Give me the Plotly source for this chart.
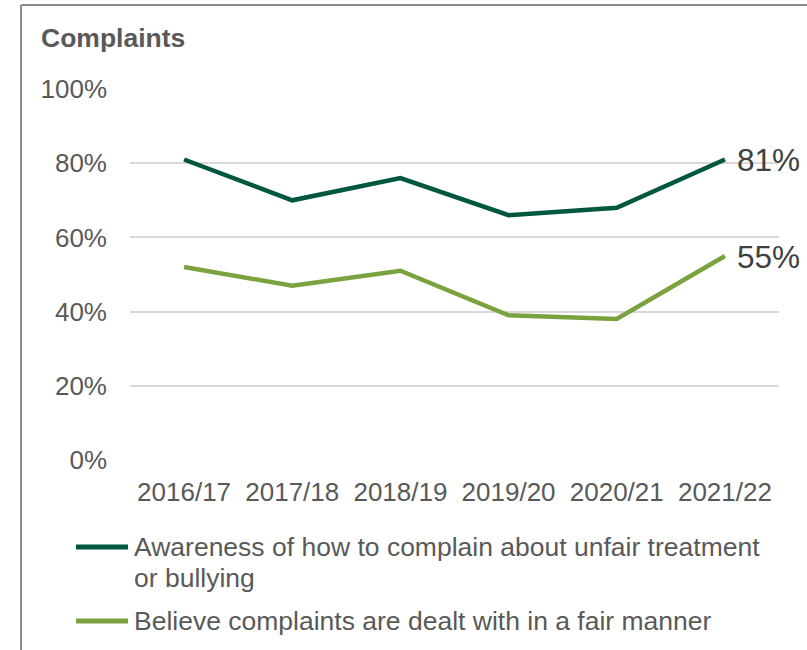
import plotly.graph_objects as go

# Survey years and results (% of respondents)
years = ["2016/17", "2017/18", "2018/19", "2019/20", "2020/21", "2021/22"]
awareness = [81, 70, 76, 66, 68, 81]
fair_manner = [52, 47, 51, 39, 38, 55]
series_names = [
    "Awareness of how to complain about unfair treatment<br>or bullying",
    "Believe complaints are dealt with in a fair manner",
]
y_ticks = [0, 20, 40, 60, 80, 100]

DARK = "#00573F"
LIGHT = "#7AA33F"
TEXT = "#595959"
FONT = "Liberation Sans, Arial, sans-serif"

W, H = 807, 650
L, R, T, B = 130, 28, 89, 190
PW, PH = W - L - R, H - T - B


def px_x(x):
    return (x - L) / PW


def px_y(y):
    return (H - B - y) / PH


fig = go.Figure()
for vals, colour in ((awareness, DARK), (fair_manner, LIGHT)):
    fig.add_trace(go.Scatter(
        x=years, y=vals, mode="lines",
        line=dict(color=colour, width=4.5),
        showlegend=False, hoverinfo="skip",
    ))

annotations = []
# latest value labels at line ends
for vals in (awareness, fair_manner):
    annotations.append(dict(
        x=years[-1], y=vals[-1], xref="x", yref="y",
        text=f"{vals[-1]}%", showarrow=False,
        xanchor="left", yanchor="middle", xshift=10, yshift=-1,
        font=dict(family=FONT, size=31.5, color="#404040"),
    ))

# chart heading
annotations.append(dict(
    x=px_x(39), y=px_y(38), xref="paper", yref="paper",
    text="<b>Complaints</b>", showarrow=False,
    xanchor="left", yanchor="middle",
    font=dict(family=FONT, size=26.5, color=TEXT),
))

shapes = []
# legend drawn beneath the chart
first = series_names[0].split("<br>")
legend_rows = [
    (DARK, 547, [(first[0], 547), (first[1], 578)]),
    (LIGHT, 621, [(series_names[1], 621)]),
]
for colour, ly, texts in legend_rows:
    shapes.append(dict(
        type="line", xref="paper", yref="paper",
        x0=px_x(76), x1=px_x(128), y0=px_y(ly), y1=px_y(ly),
        line=dict(color=colour, width=5),
    ))
    for txt, ty in texts:
        annotations.append(dict(
            x=px_x(132), y=px_y(ty), xref="paper", yref="paper",
            text=txt, showarrow=False, xanchor="left", yanchor="middle",
            font=dict(family=FONT, size=26.5, color=TEXT),
        ))

# outer frame (top and left edges)
frame = dict(color="#8C8C8C", width=2)
shapes.append(dict(type="line", xref="paper", yref="paper",
                   x0=px_x(21), x1=px_x(W + 5), y0=px_y(5), y1=px_y(5), line=frame))
shapes.append(dict(type="line", xref="paper", yref="paper",
                   x0=px_x(21), x1=px_x(21), y0=px_y(5), y1=px_y(H + 5), line=frame))

fig.update_layout(
    width=W, height=H,
    margin=dict(l=L, r=R, t=T, b=B, pad=0),
    paper_bgcolor="white", plot_bgcolor="white",
    font=dict(family=FONT, color=TEXT),
    annotations=annotations, shapes=shapes,
    xaxis=dict(
        type="category", range=[-0.5, len(years) - 0.5],
        showgrid=False, zeroline=False, showline=False, ticks="",
        tickfont=dict(size=26, color=TEXT), ticklabelstandoff=14,
        fixedrange=True,
    ),
    yaxis=dict(
        range=[0, 100], tickvals=y_ticks,
        ticktext=[f"{v}%" for v in y_ticks],
        showgrid=True, gridcolor="#D9D9D9", gridwidth=1.5,
        zeroline=False, showline=False, ticks="",
        tickfont=dict(size=26, color=TEXT), ticklabelstandoff=22,
        fixedrange=True,
    ),
)

fig.write_html("out.html")
